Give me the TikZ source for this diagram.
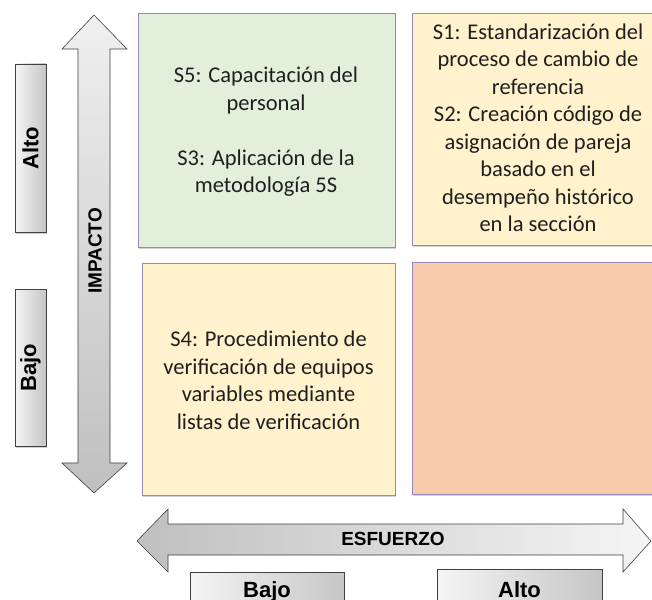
\documentclass[tikz,border=0pt]{standalone}
\usepackage{fontspec}
\setmainfont{Carlito}
\newfontfamily\labfont{Liberation Sans}
\usetikzlibrary{shadows}
\definecolor{qgreen}{HTML}{E2EFDA}
\definecolor{qyellow}{HTML}{FFF2CC}
\definecolor{qsalmon}{HTML}{F8CBAD}
\definecolor{qborder}{HTML}{9A88BC}
\definecolor{lborder}{HTML}{404040}
\begin{document}
\begin{tikzpicture}[x=1pt,y=-1pt,
  quad/.style={draw=qborder, line width=0.7pt, inner sep=0pt,
    drop shadow={shadow xshift=1.2pt,shadow yshift=-2pt,opacity=0.35}},
  qtext/.style={align=center, font=\fontsize{22.5}{27.5}\selectfont, text=black!88, inner sep=0pt},
  lab/.style={draw=lborder, line width=0.6pt, inner sep=0pt, left color=gray!8, right color=gray!45,
    drop shadow={shadow xshift=1.2pt,shadow yshift=-2pt,opacity=0.35},
    font=\labfont\bfseries\fontsize{22}{24}\selectfont},
  arrowfill/.style={draw=lborder, line width=0.6pt},
  axis/.style={font=\labfont\bfseries\fontsize{19}{20}\selectfont}]
\useasboundingbox (0,0) rectangle (652,599);
\fill[white] (0,0) rectangle (652,599);

% vertical double arrow
\path[arrowfill, top color=gray!12, bottom color=gray!50]
  (94,15) -- (127,49) -- (110,49) -- (110,463) -- (127,463) -- (94,493)
  -- (62,463) -- (78,463) -- (78,49) -- (62,49) -- cycle;
\node[axis, rotate=90] (imp) at (95,251) {IMPACTO};

% horizontal double arrow
\path[arrowfill, left color=gray!50, right color=gray!8]
  (137,541) -- (168,509) -- (168,524) -- (623,524) -- (623,509) -- (651,541)
  -- (623,572) -- (623,555) -- (168,555) -- (168,572) -- cycle;
\node[axis] (esf) at (393,539) {ESFUERZO};

% quadrants
\node[quad, fill=qgreen, minimum width=257pt, minimum height=234pt] (q1) at (266.5,130) {};
\node[quad, fill=qyellow, minimum width=240pt, minimum height=232pt] (q2) at (532,129) {};
\node[quad, fill=qyellow, minimum width=253pt, minimum height=232pt] (q3) at (268.5,379) {};
\node[quad, fill=qsalmon, minimum width=240pt, minimum height=232pt] (q4) at (532,378) {};

\node[qtext] (t1) at (266,132) {S5: Capacitación del\\personal\\[27.5pt]S3: Aplicación de la\\metodología 5S};
\node[qtext] (t2) at (538,128) {S1: Estandarización del\\proceso de cambio de\\referencia\\S2: Creación código de\\asignación de pareja\\basado en el\\desempeño histórico\\en la sección};
\node[qtext] (t3) at (268.5,380.5) {S4: Procedimiento de\\verificación de equipos\\variables mediante\\listas de verificación};

% side labels
\node[lab, minimum width=31pt, minimum height=168pt] (alto1) at (30.5,148) {\rotatebox{90}{Alto}};
\node[lab, minimum width=31pt, minimum height=157pt] (bajo1) at (30.5,367.5) {\rotatebox{90}{Bajo}};
\node[lab, minimum width=154pt, minimum height=40pt, anchor=north] (bajo2) at (267,572) {\raisebox{-5.5pt}{Bajo}};
\node[lab, minimum width=165pt, minimum height=40pt, anchor=north] (alto2) at (519.5,569) {\raisebox{-8pt}{Alto}};
\end{tikzpicture}
\end{document}
